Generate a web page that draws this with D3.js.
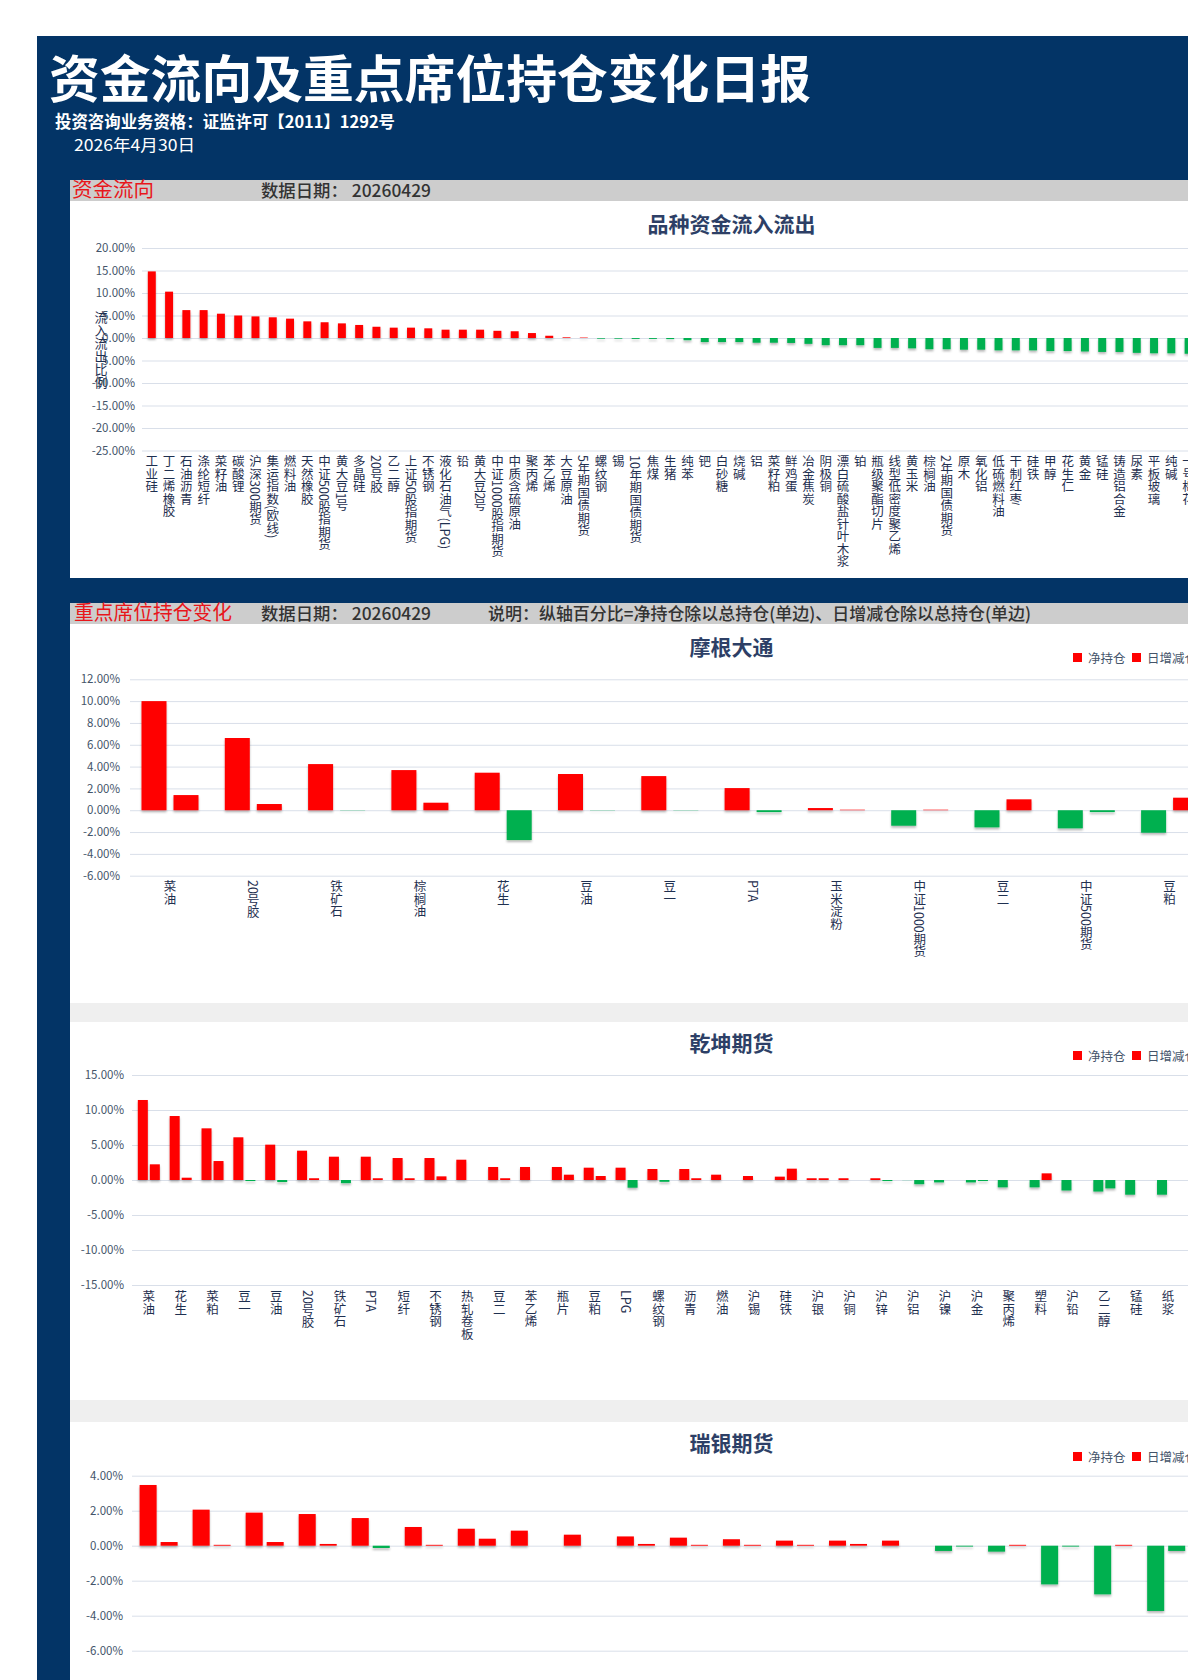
<!DOCTYPE html>
<html><head><meta charset="utf-8">
<script src="https://cdn.jsdelivr.net/npm/d3@7"></script>
<style>
html,body{margin:0;padding:0;background:#fff;overflow:hidden;}
svg{display:block;}
text{font-family:"Noto Sans CJK SC","Noto Sans",sans-serif;}
.vt{writing-mode:vertical-rl;}
</style></head><body>
<svg id="c" width="1188" height="1680"></svg>
<script>
// ---------- DATA ----------
const flowCategories = ["工业硅","丁二烯橡胶","石油沥青","涤纶短纤","菜籽油","碳酸锂","沪深300期货","集运指数(欧线)","燃料油","天然橡胶","中证500股指期货","黄大豆1号","多晶硅","20号胶","乙二醇","上证50股指期货","不锈钢","液化石油气(LPG)","铅","黄大豆2号","中证1000股指期货","中质含硫原油","聚丙烯","苯乙烯","大豆原油","5年期国债期货","螺纹钢","锡","10年期国债期货","焦煤","生猪","纯苯","钯","白砂糖","烧碱","铝","菜籽粕","鲜鸡蛋","冶金焦炭","阴极铜","漂白硫酸盐针叶木浆","铂","瓶级聚酯切片","线型低密度聚乙烯","黄玉米","棕榈油","2年期国债期货","原木","氧化铝","低硫燃料油","干制红枣","硅铁","甲醇","花生仁","黄金","锰硅","铸造铝合金","尿素","平板玻璃","纯碱","一号棉花"];
const flowValues = [14.8,10.3,6.2,6.2,5.4,5.0,4.8,4.6,4.3,3.7,3.5,3.25,2.9,2.5,2.3,2.3,2.15,1.85,1.85,1.85,1.6,1.5,1.1,0.5,0.15,0.1,-0.15,-0.15,-0.2,-0.2,-0.25,-0.5,-0.9,-0.9,-0.9,-1.05,-1.05,-1.1,-1.3,-1.6,-1.6,-1.6,-2.2,-2.2,-2.3,-2.5,-2.5,-2.6,-2.6,-2.75,-2.75,-2.75,-2.9,-2.9,-3.0,-3.1,-3.1,-3.3,-3.4,-3.4,-3.5];
const flowTicks = [20,15,10,5,0,-5,-10,-15,-20,-25];

const mgCategories = ["菜油","20号胶","铁矿石","棕榈油","花生","豆油","豆一","PTA","玉米淀粉","中证1000期货","豆二","中证500期货","豆粕"];
const mgNet   = [10.0,6.62,4.23,3.68,3.44,3.32,3.13,2.03,0.2,-1.42,-1.57,-1.66,-2.06];
const mgDaily = [1.39,0.57,-0.02,0.69,-2.73,-0.02,-0.02,-0.17,0.05,0.05,1.0,-0.17,1.15];
const mgTicks = [12,10,8,6,4,2,0,-2,-4,-6];

const qkCategories = ["菜油","花生","菜粕","豆一","豆油","20号胶","铁矿石","PTA","短纤","不锈钢","热轧卷板","豆二","苯乙烯","瓶片","豆粕","LPG","螺纹钢","沥青","燃油","沪锡","硅铁","沪银","沪铜","沪锌","沪铝","沪镍","沪金","聚丙烯","塑料","沪铅","乙二醇","锰硅","纸浆"];
const qkNet   = [11.43,9.14,7.38,6.1,5.05,4.19,3.33,3.33,3.14,3.14,2.9,1.86,1.86,1.86,1.76,1.76,1.57,1.57,0.76,0.57,0.48,0.25,0.25,0.25,-0.02,-0.35,-0.35,-1.05,-1.05,-1.5,-1.65,-2.1,-2.1];
const qkDaily = [2.24,0.33,2.71,-0.15,-0.29,0.25,-0.45,0.25,0.25,0.52,0,0.25,0,0.76,0.57,-1.1,-0.26,0.25,0,0,1.62,0.25,0,-0.15,-0.6,0,-0.15,0,0.95,0,-1.2,0,0];
const qkTicks = [15,10,5,0,-5,-10,-15];

const ubsCategories = d3.range(1, 21).map(i => "#" + i); // labels lie below the visible page
const ubsNet   = [3.47,2.06,1.89,1.81,1.58,1.07,0.97,0.86,0.63,0.53,0.46,0.37,0.29,0.29,0.29,-0.3,-0.34,-2.21,-2.78,-3.73];
const ubsDaily = [0.21,0.05,0.21,0.1,-0.13,0.05,0.4,0,0,0.1,0.05,0.05,0.05,0.1,0,-0.05,0.05,-0.05,0.05,-0.3];
const ubsTicks = [4,2,0,-2,-4,-6,-8];

const seriesKeys = ["net","daily"];
const legendLabels = ["净持仓","日增减仓"];

// ---------- STYLE ----------
const W = 1188, H = 1680;
const NAVY = "#033466", HEADER = "#cdcdcd", STRIP = "#efefef";
const RED = "#ff0000", GREEN = "#00b050", GRID = "#d9dfe9";
const AXC = "#44546a", LBL = "#1f3050", TTL = "#2d3f66", HRED = "#e8161b";
const fmt = v => v.toFixed(2) + "%";

const svg = d3.select("#c");
const defs = svg.append("defs");
const f = defs.append("filter").attr("id","sh").attr("x","-5%").attr("y","-5%").attr("width","110%").attr("height","115%");
f.append("feDropShadow").attr("dx",0).attr("dy",2).attr("stdDeviation",1.1).attr("flood-color","#000").attr("flood-opacity",0.28);

svg.append("rect").attr("width",W).attr("height",H).attr("fill","#fff");
svg.append("rect").attr("x",37).attr("y",36).attr("width",W-37).attr("height",H-36).attr("fill",NAVY);

// header texts
svg.append("text").attr("x",49).attr("y",98).attr("font-size",51).attr("font-weight",700).attr("fill","#fff")
  .attr("textLength",762).attr("lengthAdjust","spacingAndGlyphs").text("资金流向及重点席位持仓变化日报");
svg.append("text").attr("x",55).attr("y",128).attr("font-size",16.5).attr("font-weight",700).attr("fill","#fff")
  .attr("textLength",340).attr("lengthAdjust","spacingAndGlyphs").text("投资咨询业务资格：证监许可【2011】1292号");
svg.append("text").attr("x",74).attr("y",151).attr("font-size",16).attr("fill","#fff")
  .attr("textLength",121).attr("lengthAdjust","spacingAndGlyphs").text("2026年4月30日");

// section bars and panels
function rect(x,y,w,h,c){ svg.append("rect").attr("x",x).attr("y",y).attr("width",w).attr("height",h).attr("fill",c); }
rect(70,180,W-70,21,HEADER);
rect(70,201,W-70,377,"#fff");
rect(70,603,W-70,21,HEADER);
rect(70,624,W-70,379,"#fff");
rect(70,1003,W-70,19,STRIP);
rect(70,1022,W-70,378,"#fff");
rect(70,1400,W-70,22,STRIP);
rect(70,1422,W-70,H-1422,"#fff");

function htext(x,y,s,fs,c,len,wt){
  svg.append("text").attr("x",x).attr("y",y).attr("font-size",fs).attr("fill",c).attr("font-weight",wt||400)
    .attr("textLength",len).attr("lengthAdjust","spacingAndGlyphs").text(s);
}
htext(72,197,"资金流向",20,HRED,82);
htext(261,197,"数据日期： 20260429",17,"#333",170,500);
htext(74,620,"重点席位持仓变化",20,HRED,158);
htext(261,620,"数据日期： 20260429",17,"#333",170,500);
htext(488,620,"说明：纵轴百分比=净持仓除以总持仓(单边)、日增减仓除以总持仓(单边)",17,"#333",543,500);

function chartTitle(s,y){
  svg.append("text").attr("x",731.5).attr("y",y).attr("text-anchor","middle").attr("font-size",21)
    .attr("font-weight",700).attr("fill",TTL).text(s);
}
function yAxis(y,ticks,gx,labelRight){
  const g = svg.append("g").attr("transform",`translate(${gx},0)`)
    .call(d3.axisLeft(y).tickValues(ticks).tickSize(-(W-gx)).tickPadding(gx-labelRight).tickFormat(fmt));
  g.select(".domain").remove();
  g.selectAll(".tick line").attr("stroke",GRID).attr("stroke-width",1);
  g.selectAll(".tick text").attr("fill",AXC).attr("font-size",11.5)
    .attr("font-family",'"Noto Sans CJK SC","Noto Sans",sans-serif');
}
function xLabels(x,cats,top){
  svg.append("g").selectAll("text").data(cats).join("text")
    .attr("class","vt").attr("x",d=>x(d)+x.bandwidth()/2).attr("y",top)
    .attr("font-size",12.5).attr("fill",LBL).text(d=>d);
}
function legend(y){
  legendLabels.forEach((s,i)=>{
    const x = [1073,1132][i];
    svg.append("rect").attr("x",x).attr("y",y).attr("width",9).attr("height",9).attr("fill",RED);
    svg.append("text").attr("x",x+15).attr("y",y+9.5).attr("font-size",12.5).attr("fill",AXC).text(s);
  });
}
const color = v => v >= 0 ? RED : GREEN;

// ---------- CHART 1 ----------
chartTitle("品种资金流入流出",232);
{
  const y = d3.scaleLinear().domain([-25,20]).range([450.5,248]);
  yAxis(y,flowTicks,142,135);
  const x = d3.scaleBand().domain(flowCategories).range([143.16,143.16+61*17.28]).paddingInner(0.54).paddingOuter(0.27);
  const data = flowCategories.map((c,i)=>({c,v:flowValues[i]}));
  svg.append("g").attr("filter","url(#sh)").selectAll("rect").data(data).join("rect")
    .attr("x",d=>x(d.c)).attr("width",x.bandwidth())
    .attr("y",d=>y(Math.max(0,d.v))).attr("height",d=>Math.abs(y(d.v)-y(0)))
    .attr("fill",d=>color(d.v));
  xLabels(x,flowCategories,455);
  svg.append("text").attr("class","vt").attr("x",101).attr("y",311).attr("font-size",13).attr("fill",LBL).text("流入流出比例");
}

// ---------- grouped charts ----------
function grouped(cfg){
  const y = d3.scaleLinear().domain(cfg.domain).range(cfg.range);
  yAxis(y,cfg.ticks,cfg.gx,cfg.lr);
  const x0 = d3.scaleBand().domain(cfg.cats).range([cfg.x0,cfg.x0+cfg.cats.length*cfg.step]);
  const x1 = d3.scaleBand().domain(seriesKeys).range([0,x0.bandwidth()]).paddingInner(cfg.pi).paddingOuter(cfg.po);
  const data = [];
  cfg.cats.forEach((c,i)=>{ data.push({c,k:"net",v:cfg.net[i]}); data.push({c,k:"daily",v:cfg.daily[i]}); });
  svg.append("g").attr("filter","url(#sh)").selectAll("rect").data(data).join("rect")
    .attr("x",d=>x0(d.c)+x1(d.k)).attr("width",x1.bandwidth())
    .attr("y",d=>y(Math.max(0,d.v))).attr("height",d=>Math.abs(y(d.v)-y(0)))
    .attr("fill",d=>color(d.v));
  if (cfg.labelTop) xLabels(x0,cfg.cats,cfg.labelTop);
  chartTitle(cfg.title,cfg.titleY);
  legend(cfg.legendY);
}

grouped({title:"摩根大通",titleY:655,legendY:653,cats:mgCategories,net:mgNet,daily:mgDaily,ticks:mgTicks,
  domain:[-6,12],range:[875.7,679.3],gx:130,lr:120,x0:128.35,step:83.3,pi:0.219,po:0.411,labelTop:880});
grouped({title:"乾坤期货",titleY:1051,legendY:1051,cats:qkCategories,net:qkNet,daily:qkDaily,ticks:qkTicks,
  domain:[-15,15],range:[1285,1075],gx:132,lr:124,x0:132.9,step:31.85,pi:0.167,po:0.41,labelTop:1290});
grouped({title:"瑞银期货",titleY:1451,legendY:1452,cats:ubsCategories,net:ubsNet,daily:ubsDaily,ticks:ubsTicks,
  domain:[-8,4],range:[1685.7,1475.7],gx:132,lr:123,x0:132.1,step:53.03,pi:0.19,po:0.357,labelTop:null});
</script>
</body></html>
